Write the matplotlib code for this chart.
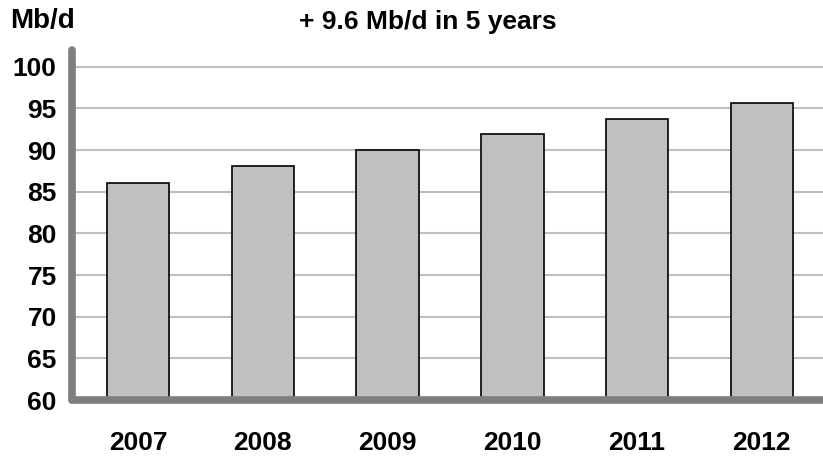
import matplotlib.pyplot as plt

plt.rcParams['font.family'] = ['Liberation Sans', 'DejaVu Sans']
plt.rcParams['font.weight'] = 'bold'

years = ['2007', '2008', '2009', '2010', '2011', '2012']
demand = [86.0, 88.1, 90.0, 91.9, 93.7, 95.6]
yticks = [60, 65, 70, 75, 80, 85, 90, 95, 100]

fig = plt.figure(figsize=(8.23, 4.58), dpi=100)
ax = fig.add_axes([0.0875, 0.1266, 0.9125, 0.764])

x = range(len(years))
ax.bar(x, [v - 60 for v in demand], bottom=60, width=0.5,
       color='#c0c0c0', edgecolor='black', linewidth=1.2, zorder=2)

for t in yticks[1:]:
    ax.axhline(t, color='#c0c0c0', linewidth=1.5, zorder=1)

ax.set_xlim(-0.53, 5.49)
ax.set_ylim(60, 102)

# floor and left wall
ax.plot([-0.53, 5.6], [60, 60], color='#7f7f7f', linewidth=5.5,
        solid_capstyle='round', zorder=3, clip_on=False)
ax.plot([-0.53, -0.53], [60, 102], color='#7f7f7f', linewidth=5.5,
        solid_capstyle='round', zorder=3, clip_on=False)

for s in ax.spines.values():
    s.set_visible(False)

ax.set_yticks(yticks)
ax.set_yticklabels([str(t) for t in yticks], fontsize=19, fontweight='bold')
ax.set_xticks(list(x))
ax.set_xticklabels(years, fontsize=19, fontweight='bold')
ax.tick_params(axis='y', length=0, pad=11)
ax.tick_params(axis='x', length=0, pad=22)

fig.text(0.012, 0.955, 'Mb/d', fontsize=20, fontweight='bold', va='center', ha='left')
fig.text(0.52, 0.952, '+ 9.6 Mb/d in 5 years', fontsize=19, fontweight='bold',
         va='center', ha='center')

plt.savefig('out.png', dpi=100)
